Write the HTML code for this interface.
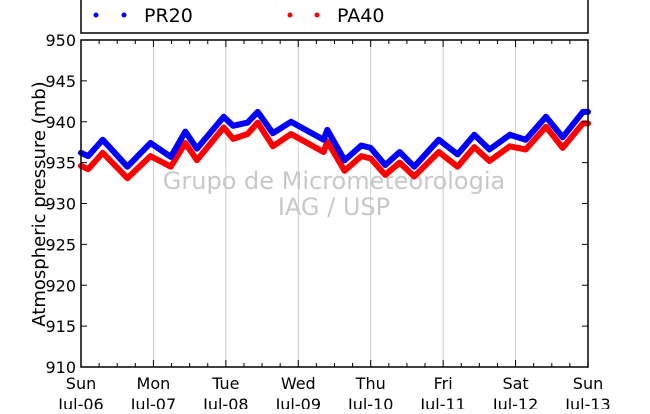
<!DOCTYPE html>
<html><head><meta charset="utf-8"><style>
body{margin:0;background:#fff}
svg text{font-family:"DejaVu Sans","Liberation Sans",sans-serif}
</style></head><body>
<svg id="chart" width="650" height="409">
<g id="grid"></g>
<text x="334" y="189" font-size="24" fill="#c8c8c8" text-anchor="middle">Grupo de Micrometeorologia</text>
<text x="334" y="215" font-size="24" fill="#c8c8c8" text-anchor="middle">IAG / USP</text>
<g id="series"></g>
<g id="axes"></g>
<rect x="81" y="40" width="507" height="327" fill="none" stroke="#000" stroke-width="1.5"/>
<text transform="translate(45,204) rotate(-90)" font-size="18" text-anchor="middle">Atmospheric pressure (mb)</text>
<rect x="81" y="-5" width="507" height="38" fill="#fff" stroke="#000" stroke-width="1.5"/>
<g>
<circle cx="96" cy="15" r="2.5" fill="#0000ff"/><circle cx="124" cy="15" r="2.5" fill="#0000ff"/>
<text x="144" y="22" font-size="19">PR20</text></g>
<g>
<circle cx="290" cy="15" r="2.5" fill="#ff0000"/><circle cx="317" cy="15" r="2.5" fill="#ff0000"/>
<text x="337" y="22" font-size="19">PA40</text></g>
</svg>
<script>
const dayLabels=["Sun","Mon","Tue","Wed","Thu","Fri","Sat","Sun"];
const dateLabels=["Jul-06","Jul-07","Jul-08","Jul-09","Jul-10","Jul-11","Jul-12","Jul-13"];
const yTicks=[910,915,920,925,930,935,940,945,950];
const times=[0,0.1,0.3,0.64,0.96,1.24,1.44,1.6,1.97,2.1,2.3,2.44,2.65,2.9,3.35,3.4,3.64,3.87,4.0,4.2,4.4,4.6,4.94,5.2,5.43,5.64,5.92,6.14,6.42,6.65,6.93,7.0];
const pr20=[936.2,935.8,937.8,934.5,937.4,935.7,938.8,936.7,940.6,939.5,939.9,941.2,938.6,940.0,937.8,939.0,935.3,937.1,936.8,934.7,936.3,934.5,937.8,936.0,938.4,936.6,938.4,937.8,940.6,938.1,941.2,941.2];
const pa40=[934.6,934.2,936.2,933.1,935.8,934.5,937.4,935.3,939.3,937.9,938.5,939.9,937.0,938.5,936.3,937.6,934.0,935.8,935.5,933.5,935.0,933.3,936.3,934.5,936.9,935.2,937.0,936.6,939.4,936.8,939.8,939.8];
const NS="http://www.w3.org/2000/svg";
const X0=81,X1=588,Y0=367,Y1=40;
function xs(d){return X0+(X1-X0)*d/7;}
function ys(v){return Y0-(Y0-Y1)*(v-910)/40;}
function mk(tag,attrs,parent){const e=document.createElementNS(NS,tag);for(const k in attrs)e.setAttribute(k,attrs[k]);parent.appendChild(e);return e;}
const grid=document.getElementById('grid'),axes=document.getElementById('axes'),series=document.getElementById('series');
for(let i=0;i<dayLabels.length;i++){
  const x=xs(i);
  if(i>0&&i<7){const g=mk('line',{x1:x,x2:x,y1:Y1,y2:Y0,stroke:'#cccccc','stroke-width':1},grid);
  
  }
  const t1=mk('text',{x:x,y:389,'font-size':16,'text-anchor':'middle'},axes);t1.textContent=dayLabels[i];
  
  
  const t2=mk('text',{x:x,y:410,'font-size':16,'text-anchor':'middle'},axes);t2.textContent=dateLabels[i];
  
  
}
for(let q=0;q<=28;q++){const x=xs(q/4);const len=q%4===0?7:4;
  mk('line',{x1:x,x2:x,y1:Y0,y2:Y0-len,stroke:'#000'},axes);
  mk('line',{x1:x,x2:x,y1:Y1,y2:Y1+len,stroke:'#000'},axes);}
yTicks.forEach(v=>{const y=ys(v);
  mk('line',{x1:X0,x2:X0+6,y1:y,y2:y,stroke:'#000'},axes);
  mk('line',{x1:X1,x2:X1-6,y1:y,y2:y,stroke:'#000'},axes);
  const t=mk('text',{x:76,y:y+6,'font-size':16,'text-anchor':'end'},axes);t.textContent=v;
  
  });
function draw(vals,color,name){
  const pts=times.map((d,i)=>xs(d).toFixed(1)+','+ys(vals[i]).toFixed(1)).join(' ');
  const p=mk('polyline',{points:pts,fill:'none',stroke:color,'stroke-width':6,'stroke-linejoin':'round','stroke-linecap':'round'},series);
  
  
}
draw(pa40,'#ff0000','series-pa40');
draw(pr20,'#0000ff','series-pr20');
</script>
</body></html>
